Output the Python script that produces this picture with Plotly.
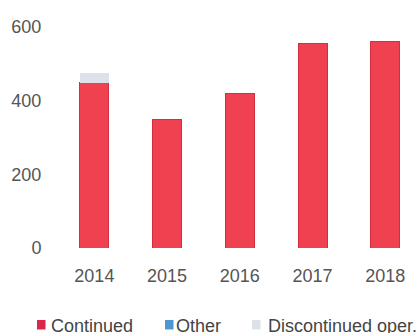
import plotly.graph_objects as go

years = ["2014", "2015", "2016", "2017", "2018"]
continued = [449, 348, 420, 556, 562]
other = [0, 0, 0, 0, 0]
discontinued = [25, 0, 0, 0, 0]
y_ticks = [0, 200, 400, 600]

series_names = ["Continued", "Other", "Discontinued oper."]
red = "#ef4150"
red_edge = "#d42f3f"
blue = "#4f97d1"
grey = "#dde2ea"
swatch_colors = ["#d9284c", blue, grey]

font_family = "Liberation Sans, Arial, sans-serif"

# figure geometry (pixels)
W, H = 418, 333
ML, MT, MB = 58, 27, 85
PW, PH = W - ML, H - MT - MB


def px_x(px):
    return (px - ML) / PW


def px_y(py):
    return (H - MB - py) / PH


fig = go.Figure()
fig.add_trace(go.Bar(x=years, y=continued, name=series_names[0], marker_color=red,
                     marker_line=dict(color=red_edge, width=1)))
fig.add_trace(go.Bar(x=years, y=other, name=series_names[1], marker_color=blue,
                     marker_line_width=0))
fig.add_trace(go.Bar(x=years, y=discontinued, name=series_names[2], marker_color=grey,
                     marker_line_width=0))

# legend row along the bottom edge: square swatch + label
legend_swatch_left = [37, 165, 252]
legend_text_left = [49, 174, 266]
legend_mid = 325
for name, col, sx, tx in zip(series_names, swatch_colors, legend_swatch_left, legend_text_left):
    fig.add_shape(type="rect", xref="paper", yref="paper",
                  x0=px_x(sx), x1=px_x(sx + 8.5),
                  y0=px_y(legend_mid - 5), y1=px_y(legend_mid + 4.5),
                  fillcolor=col, line_width=0)
    fig.add_annotation(text=name, xref="paper", yref="paper",
                       x=px_x(tx), y=px_y(legend_mid + 1),
                       xanchor="left", yanchor="middle", showarrow=False,
                       font=dict(size=18, color="#444444"))

fig.update_layout(
    barmode="stack",
    bargap=0.6,
    showlegend=False,
    width=W, height=H,
    margin=dict(l=ML, r=0, t=MT, b=MB, autoexpand=False),
    paper_bgcolor="white", plot_bgcolor="white",
    font=dict(family=font_family, size=18, color="#555555"),
    xaxis=dict(type="category", range=[-0.5, 4.45], showgrid=False, zeroline=False,
               showline=False, ticks="outside", ticklen=11, tickcolor="rgba(0,0,0,0)",
               tickfont=dict(size=18, color="#555555"), automargin=False),
    yaxis=dict(range=[0, 600], tickvals=y_ticks, showgrid=False, zeroline=False,
               showline=False, ticks="outside", ticklen=12, tickcolor="rgba(0,0,0,0)",
               tickfont=dict(size=18, color="#555555"), automargin=False),
)

fig.write_html("out.html")
